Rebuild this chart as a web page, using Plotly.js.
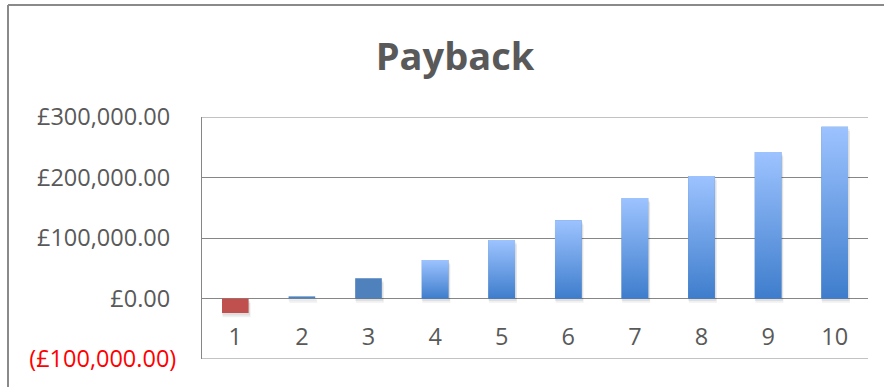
<!DOCTYPE html>
<html>
<head>
<meta charset="utf-8">
<script src="https://cdn.plot.ly/plotly-3.0.1.min.js"></script>
<style>
  html, body { margin: 0; padding: 0; background: #fff; overflow: hidden; }
  #chart { width: 884px; height: 387px; }
</style>
</head>
<body>
<div id="chart"></div>
<script>
// ---- data ----
const years = [1, 2, 3, 4, 5, 6, 7, 8, 9, 10];
const payback = [-24000, 3500, 33500, 63500, 96500, 129500, 166000, 202500, 242000, 284000];
const yTickVals = [-100000, 0, 100000, 200000, 300000];
const yTickText = [
  '<span style="color:#FF0000">(£100,000.00)</span>',
  '£0.00\u00A0',
  '£100,000.00\u00A0',
  '£200,000.00\u00A0',
  '£300,000.00\u00A0'
];
const chartTitle = 'Payback';

// ---- styling ----
const RED = 'rgb(192,80,77)';
const BLUE = 'rgb(79,129,189)';
const GRAD_DARK = 'rgb(62,125,204)';
const GRAD_LIGHT = 'rgb(157,195,255)';
const GRID = '#868686';
const TXT = '#595959';
const FONT = '"Open Sans", "Noto Sans", sans-serif';
const BAR_W = 0.4;
const firstGradientYear = 4;
const Y_MIN = yTickVals[0], Y_MAX = yTickVals[yTickVals.length - 1];

const baseColors = years.map((yr, i) => payback[i] < 0 ? RED : BLUE);

const traces = [];

// soft drop shadow behind bars (two layers for a blur-like effect)
[[-4000, 0.012, 0.07], [-7000, 0.02, 0.06]].forEach(([b, dx, a]) => {
  traces.push({
    type: 'bar', x: years, y: payback, base: b,
    width: BAR_W + 0.02, offset: -BAR_W / 2 - 0.01 + dx,
    marker: { color: 'rgba(0,0,0,' + a + ')', line: { width: 0 } },
    hoverinfo: 'skip', showlegend: false
  });
});

// main bars
traces.push({
  type: 'bar', x: years, y: payback, width: BAR_W,
  marker: { color: baseColors, line: { width: 0 } },
  showlegend: false
});

// gradient overlays for later bars
years.forEach((yr, i) => {
  if (yr < firstGradientYear) return;
  const v = payback[i];
  const l = yr - BAR_W / 2, r = yr + BAR_W / 2;
  traces.push({
    type: 'scatter', mode: 'none',
    x: [l, r, r, l, l], y: [0, 0, v, v, 0],
    fill: 'toself',
    fillgradient: {
      type: 'vertical',
      colorscale: [[0, GRAD_DARK], [1, GRAD_LIGHT]],
      start: 0, stop: v
    },
    hoverinfo: 'skip', showlegend: false
  });
});

const layout = {
  width: 884, height: 387,
  margin: { l: 202, r: 16, t: 117, b: 28 },
  paper_bgcolor: '#fff', plot_bgcolor: '#fff',
  barmode: 'overlay',
  showlegend: false,
  font: { family: FONT, color: TXT, size: 23.5 },
  title: {
    text: '<b>' + chartTitle + '</b>',
    font: { family: FONT, size: 38, color: TXT },
    x: 455 / 884, xanchor: 'center', xref: 'container',
    y: 1 - 57 / 387, yanchor: 'middle', yref: 'container'
  },
  xaxis: {
    range: [0.5, 10.5],
    tickvals: years, ticktext: years.map(String),
    anchor: 'free', position: 0.25,
    showgrid: false, zeroline: false, showline: false, ticks: '',
    ticklabelstandoff: 22,
    tickfont: { family: FONT, size: 23.5, color: TXT },
    fixedrange: true
  },
  yaxis: {
    range: [Y_MIN, Y_MAX],
    tickvals: yTickVals, ticktext: yTickText,
    showgrid: true, gridcolor: GRID, gridwidth: 1,
    zeroline: false,
    showline: true, linecolor: GRID, linewidth: 1,
    ticks: '',
    ticklabelstandoff: 20,
    tickfont: { family: FONT, size: 23.5, color: TXT },
    fixedrange: true
  },
  shapes: [
    // gridlines at the range ends (Plotly omits them at the edges)
    { type: 'line', xref: 'paper', yref: 'y', x0: 0, x1: 1, y0: Y_MAX, y1: Y_MAX,
      line: { color: GRID, width: 1 }, layer: 'below' },
    { type: 'line', xref: 'paper', yref: 'y', x0: 0, x1: 1, y0: Y_MIN, y1: Y_MIN,
      line: { color: GRID, width: 1 }, layer: 'below' },
    // chart-area border: top and left edges only (right/bottom lie outside the frame)
    { type: 'line', xref: 'paper', yref: 'paper',
      x0: (8 - 202) / 666, x1: (884 - 202) / 666,
      y0: (359 - 5) / 242, y1: (359 - 5) / 242,
      line: { color: '#8A8A8A', width: 2 }, layer: 'below' },
    { type: 'line', xref: 'paper', yref: 'paper',
      x0: (8 - 202) / 666, x1: (8 - 202) / 666,
      y0: (359 - 5) / 242, y1: (359 - 387) / 242,
      line: { color: '#8A8A8A', width: 2 }, layer: 'below' }
  ]
};

Plotly.newPlot('chart', traces, layout, { displayModeBar: false, staticPlot: true });
</script>
</body>
</html>
